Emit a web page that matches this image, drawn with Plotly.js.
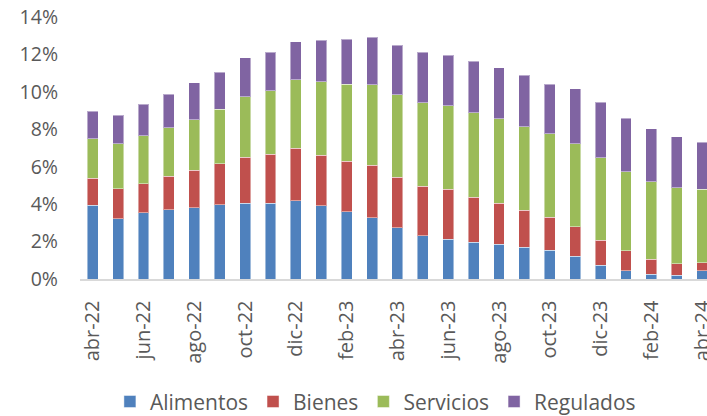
<!DOCTYPE html>
<html>
<head>
<meta charset="utf-8">
<script src="https://cdn.plot.ly/plotly-3.0.1.min.js"></script>
<style>html,body{margin:0;padding:0;background:#fff;overflow:hidden}#chart{width:707px;height:416px}</style>
</head>
<body>
<div id="chart"></div>
<script>
const months = ["abr-22","may-22","jun-22","jul-22","ago-22","sep-22","oct-22","nov-22","dic-22","ene-23","feb-23","mar-23","abr-23","may-23","jun-23","jul-23","ago-23","sep-23","oct-23","nov-23","dic-23","ene-24","feb-24","mar-24","abr-24"];
const alimentos = [3.94,3.23,3.55,3.71,3.81,3.97,4.04,4.06,4.17,3.92,3.60,3.26,2.75,2.32,2.13,1.97,1.85,1.70,1.54,1.22,0.73,0.43,0.25,0.21,0.43];
const bienes    = [1.45,1.59,1.54,1.77,2.01,2.18,2.47,2.61,2.82,2.69,2.69,2.82,2.69,2.64,2.67,2.41,2.21,1.97,1.77,1.56,1.34,1.08,0.81,0.60,0.44];
const servicios = [2.11,2.40,2.57,2.59,2.69,2.93,3.22,3.38,3.65,3.92,4.12,4.29,4.40,4.45,4.46,4.50,4.50,4.47,4.46,4.44,4.40,4.22,4.15,4.07,3.92];
const regulados = [1.47,1.54,1.68,1.79,1.97,1.98,2.10,2.06,2.04,2.24,2.39,2.56,2.66,2.72,2.69,2.75,2.73,2.75,2.64,2.94,2.98,2.87,2.81,2.73,2.53];
const tickLabels = months.filter((m,i)=>i%2===0);
const yTicks = [0,2,4,6,8,10,12,14];

const series = [
  {name:"Alimentos", y:alimentos, color:"#4f81bd"},
  {name:"Bienes", y:bienes, color:"#c0504d"},
  {name:"Servicios", y:servicios, color:"#9bbb59"},
  {name:"Regulados", y:regulados, color:"#8064a2"}
];
const data = series.map(s=>({
  type:"bar", name:s.name, x:months, y:s.y,
  marker:{color:s.color, line:{color:"rgba(255,255,255,0.45)", width:1}},
  hoverinfo:"none"
}));
const layout = {
  width:707, height:416,
  margin:{l:80, r:0, t:17, b:137},
  barmode:"stack", bargap:0.57,
  paper_bgcolor:"#fff", plot_bgcolor:"#fff",
  font:{family:"Open Sans, sans-serif", color:"#595959"},
  showlegend:true,
  legend:{orientation:"h", xref:"container", yref:"container", x:0.531, xanchor:"center", y:0.034, yanchor:"middle",
          font:{size:21, color:"#595959"}, traceorder:"normal", itemwidth:30},
  xaxis:{type:"category", range:[-0.5,24.19], tickmode:"array", tickvals:tickLabels, ticktext:tickLabels,
         tickangle:-90, tickfont:{size:20, color:"#595959"}, showgrid:false, zeroline:false,
         showline:true, linecolor:"#d9d9d9", linewidth:1.5, ticks:"", ticklabelstandoff:12, fixedrange:true},
  yaxis:{range:[0,14], tickvals:yTicks, ticktext:yTicks.map(v=>v+"%"), tickfont:{size:19.5, color:"#595959"},
         showgrid:false, zeroline:false, showline:false, ticks:"", ticklabelstandoff:21, fixedrange:true}
};
Plotly.newPlot("chart", data, layout, {displayModeBar:false, staticPlot:true});
</script>
</body>
</html>
